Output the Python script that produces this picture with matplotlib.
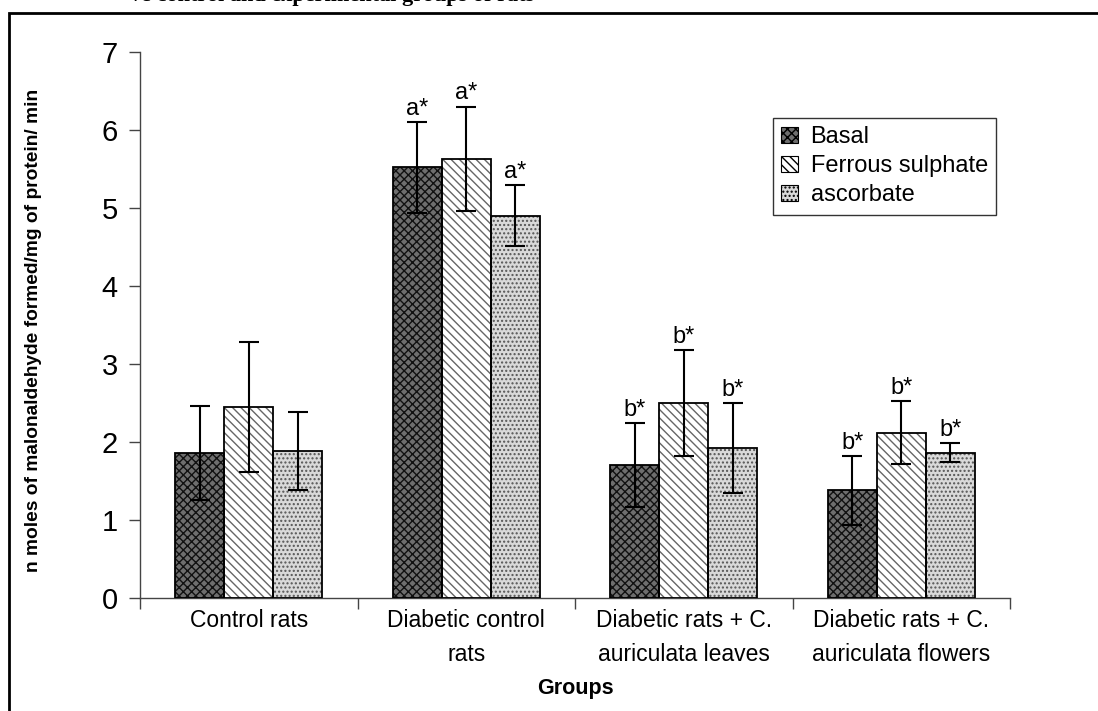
import matplotlib.pyplot as plt
import numpy as np
from matplotlib.patches import Patch, Rectangle

plt.rcParams['font.family'] = ['Liberation Sans', 'DejaVu Sans']
plt.rcParams['hatch.linewidth'] = 1.0

groups = ['Control rats', 'Diabetic control\nrats',
          'Diabetic rats + C.\nauriculata leaves', 'Diabetic rats + C.\nauriculata flowers']
series = ['Basal', 'Ferrous sulphate', 'ascorbate']

basal = [1.86, 5.52, 1.70, 1.38]
basal_err = [0.60, 0.58, 0.54, 0.44]
ferrous = [2.45, 5.63, 2.50, 2.12]
ferrous_err = [0.83, 0.67, 0.68, 0.40]
ascorbate = [1.88, 4.90, 1.92, 1.86]
ascorbate_err = [0.50, 0.39, 0.58, 0.12]

marks = [['', '', ''], ['a*', 'a*', 'a*'], ['b*', 'b*', 'b*'], ['b*', 'b*', 'b*']]

# (face, hatch, hatch colour)
styles = [('#6e6e6e', 'xxxx', '#111111'),
          ('white', '\\\\\\\\', '#666666'),
          ('#d9d9d9', '....', '#555555')]

fig = plt.figure(figsize=(10.98, 7.11), dpi=100)
ax = fig.add_axes([0.1275, 0.159, 0.7924, 0.768])

x = np.arange(len(groups))
w = 0.225
values = [basal, ferrous, ascorbate]
errors = [basal_err, ferrous_err, ascorbate_err]

for i, (vals, errs) in enumerate(zip(values, errors)):
    face, hatch, hcol = styles[i]
    pos = x + (i - 1) * w
    ax.bar(pos, vals, w, color=face, hatch=hatch, edgecolor=hcol, linewidth=0, zorder=2)
    ax.bar(pos, vals, w, fill=False, edgecolor='black', linewidth=1.3, zorder=3)
    ax.errorbar(pos, vals, yerr=errs, fmt='none', ecolor='black', elinewidth=1.5,
                capsize=7, capthick=1.5, zorder=4)
    for j in range(len(groups)):
        if marks[j][i]:
            ax.text(pos[j], vals[j] + errs[j] + 0.03, marks[j][i], ha='center', va='bottom',
                    fontsize=17)

ax.set_xlim(-0.5, 3.5)
ax.set_ylim(0, 7)
ax.set_yticks(range(8))
ax.tick_params(axis='y', labelsize=21, length=8, width=1, color='#444444', pad=8)
ax.set_xticks(x)
ax.set_xticklabels(groups, fontsize=16.5, linespacing=1.6)
ax.tick_params(axis='x', length=0, pad=8)
ax.set_xticks(np.arange(-0.5, 4, 1), minor=True)
ax.tick_params(axis='x', which='minor', length=8, width=1, color='#444444')

for s in ['top', 'right']:
    ax.spines[s].set_visible(False)
for s in ['left', 'bottom']:
    ax.spines[s].set_color('#444444')
    ax.spines[s].set_linewidth(1)

ax.set_xlabel('Groups', fontsize=15.5, fontweight='bold', labelpad=9)
ax.set_ylabel('n moles of malonaldehyde formed/mg of protein/ min', fontsize=13.8,
              fontweight='bold', family=['Liberation Sans Narrow', 'Liberation Sans'])
ax.yaxis.set_label_coords(-0.113, 0.49)

handles = [Patch(facecolor=s[0], hatch=s[1], edgecolor='black', linewidth=0.8) for s in styles]
leg = ax.legend(handles, series, loc='upper right', bbox_to_anchor=(0.984, 0.879), fontsize=17,
                frameon=True, fancybox=False, handlelength=0.7, handleheight=0.7,
                handletextpad=0.55, borderpad=0.35, labelspacing=0.3, borderaxespad=0)
leg.get_frame().set_edgecolor('black')
leg.get_frame().set_linewidth(1)

# outer frame of the original figure
fig.patches.append(Rectangle((9 / 1098, -0.1), 1.2, 1.1 - 13 / 711, transform=fig.transFigure,
                             fill=False, edgecolor='black', linewidth=2))

# caption above, cut off by the top edge as in the original
fig.text(130 / 1098, 1 - 1 / 711, 've control and experimental groups of rats', ha='left',
         va='baseline', fontsize=16, fontweight='bold', family='Liberation Serif')

fig.savefig('out.png', dpi=100)
